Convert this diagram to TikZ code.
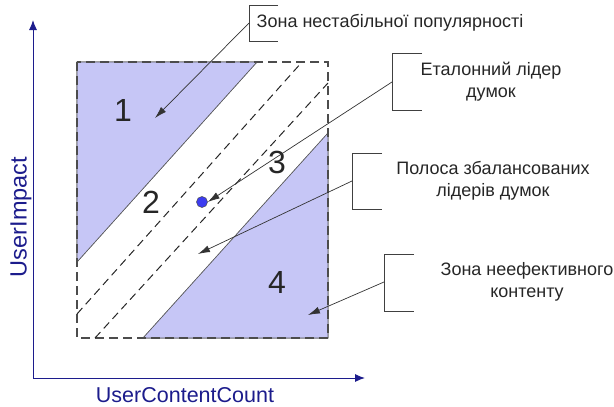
\documentclass[tikz,border=0pt]{standalone}
\usepackage{fontspec}
\setmainfont{Liberation Sans}
\usepackage{xcolor}
\definecolor{zonefill}{RGB}{198,198,246}
\definecolor{axisblue}{RGB}{28,28,140}
\definecolor{dotblue}{RGB}{60,60,240}
\usetikzlibrary{arrows.meta}

\begin{document}
\begin{tikzpicture}[x=1pt, y=-1pt, every node/.style={inner sep=0}]
    \tikzstyle{zone}=[ %
      fill=zonefill,
      draw=black!65, line width=0.6
    ]
    \tikzstyle{num}=[font=\fontsize{32}{38}\selectfont, text=black!85]
    \tikzstyle{note}=[ %
      font=\fontsize{18}{22}\selectfont,
      align=center, text=black!85
    ]
    \tikzstyle{bracket}=[draw=black!75, line width=0.7]
    \tikzstyle{callout}=[draw=black!80, line width=0.7,
      -{Latex[length=12pt,width=7pt]}]
    \tikzstyle{axis}=[draw=axisblue, line width=1,
      -{Latex[length=10pt,width=8pt]}]
    \tikzstyle{band}=[dashed, dash pattern=on 8pt off 5pt, draw=black!85, line width=1]
  %  \draw[help lines] (0,0) grid (614,407);
    \useasboundingbox (0,0) rectangle (614,407);

    % zones
    \fill[zone] (77,62) -- (257,62) -- (77,262) -- cycle;
    \fill[zone] (143,338) -- (328,338) -- (328,133) -- cycle;
    \draw[zone] (77,62) -- (257,62) -- (77,262) -- cycle;
    \draw[zone] (143,338) -- (328,338) -- (328,133) -- cycle;
    \draw[band, dash pattern=on 9pt off 5pt, draw=black!70, line width=1.2] (77,62) rectangle (328,338);
    \draw[band] (77,314) -- (302,62);
    \draw[band] (95,338) -- (328,83);

    % axes
    \coordinate (o) at (33,378);
    \draw[axis] (o) -- (365,378);
    \draw[axis] (o) -- (33,20);
    \path (185,395) node(xl) [font=\fontsize{21.5}{24}\selectfont, text=axisblue] {UserContentCount}
          (21,217) node(yl) [rotate=90, font=\fontsize{23.5}{26}\selectfont, text=axisblue] {UserImpact};

    % zone numbers
    \path (123,110) node(n1) [num] {1}
          (151,202) node(n2) [num] {2}
          (277,162) node(n3) [num] {3}
          (277,282) node(n4) [num] {4};

    % reference leader
    \node(dot) [circle, minimum size=11pt, fill=dotblue, draw=black!70, line width=0.5] at (202,202) {};

    % notes
    \path (390,23)  node(t1) [note] {Зона нестабільної популярності}
          (491,82)  node(t2) [note] {Еталонний лідер\\думок}
          (493,181) node(t3) [note] {Полоса збалансованих\\лідерів думок}
          (527,282) node(t4) [note] {Зона неефективного\\контенту};

    \draw[bracket] (278,5) -| (249,41) -- (278,41);
    \draw[bracket] (422,53) -| (392,110) -- (422,110);
    \draw[bracket] (382,153) -| (352,209) -- (382,209);
    \draw[bracket] (414,254) -| (384,311) -- (414,311);
    \coordinate (b1) at (249,23);
    \coordinate (b2) at (392,82);
    \coordinate (b3) at (352,181);
    \coordinate (b4) at (384,282);
    \coordinate (a1) at (155,118);
    \coordinate (a3) at (198,254);
    \coordinate (a4) at (308,315);

    \draw[callout] (b1) -- (a1);
    \draw[callout] (b2) -- (dot.east);
    \draw[callout] (b3) -- (a3);
    \draw[callout] (b4) -- (a4);
\end{tikzpicture}
\end{document}
